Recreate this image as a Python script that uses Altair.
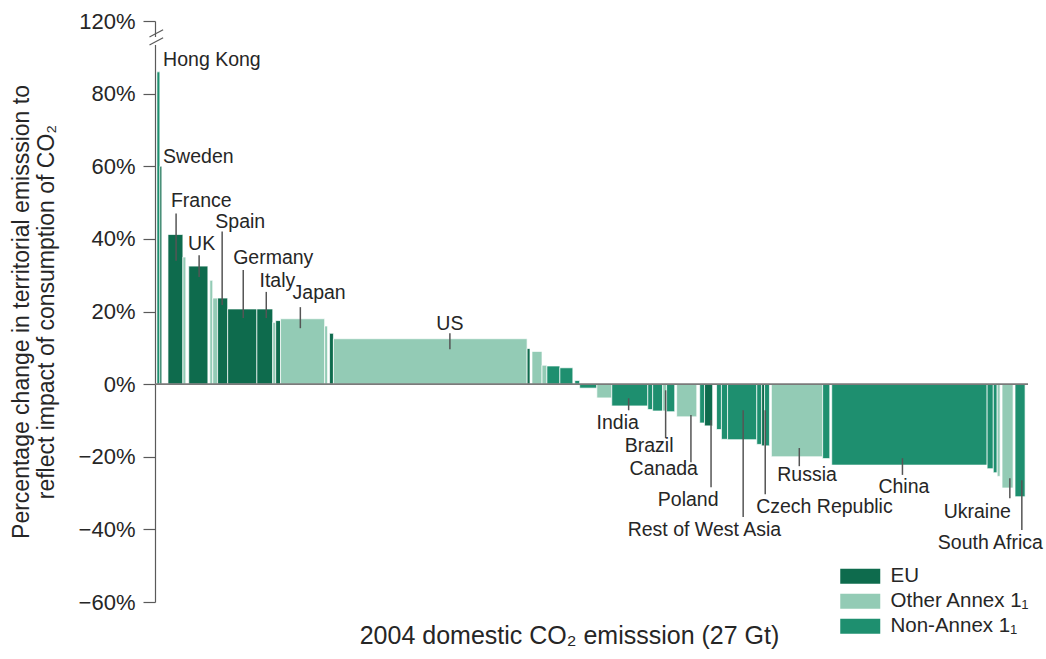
import altair as alt
import pandas as pd

EU = "EU"
OA = "Other Annex 1\u2081"
NA = "Non-Annex 1\u2081"
GAP = "gap"

# Bars left to right: group, 2004 domestic emission (Gt), % change
groups = [GAP, NA, EU, GAP, EU, OA, GAP, EU, GAP, OA,
          OA, EU, EU, EU, OA, EU, OA, OA, GAP, EU,
          OA, EU, GAP, OA, OA, NA, NA, GAP, NA, NA,
          OA, NA, NA, NA, OA, NA, GAP, OA, GAP, NA,
          EU, GAP, NA, NA, NA, NA, EU, NA, GAP, OA,
          NA, GAP, NA, NA, NA, OA, GAP, OA, GAP, NA,
          GAP]
widths = [0.06, 0.09, 0.06, 0.19, 0.46, 0.09, 0.09, 0.59, 0.06, 0.09,
          0.15, 0.31, 0.90, 0.49, 0.09, 0.15, 1.36, 0.09, 0.06, 0.12,
          5.97, 0.09, 0.06, 0.31, 0.15, 0.40, 0.40, 0.06, 0.15, 0.53,
          0.46, 1.11, 0.15, 0.31, 0.12, 0.25, 0.06, 0.62, 0.09, 0.15,
          0.25, 0.12, 0.15, 0.19, 0.90, 0.15, 0.09, 0.15, 0.06, 1.58,
          0.22, 0.06, 4.79, 0.19, 0.12, 0.09, 0.06, 0.34, 0.06, 0.31,
          0.09]
values = [0, 86, 60, 0, 41.2, 35, 0, 32.5, 0, 28.6,
          23.7, 23.7, 20.7, 20.7, 17, 17.5, 18, 16, 0, 14,
          12.5, 9.8, 0, 9, 5.2, 5, 4.5, 0, 1, -1.1,
          -3.8, -6, -7, -7.4, -7.4, -7.6, 0, -9, 0, -10.7,
          -11.5, 0, -12.5, -15.2, -15.3, -16.6, -17, -17, 0, -20,
          -20.5, 0, -22.3, -23.3, -24.4, -25.4, 0, -28.6, 0, -31,
          0]

# Country labels: name, text x (Gt), text y (%), leader x (Gt), leader y from/to (%)
lab_names = ["Hong Kong", "Sweden", "France", "UK", "Spain", "Germany", "Italy", "Japan",
             "India", "Brazil", "Canada", "Poland", "Rest of West Asia", "Czech Republic",
             "Russia", "China", "Ukraine", "South Africa"]
lab_x = [0.25, 0.25, 0.49, 1.02, 1.86, 2.41, 3.22, 4.24,
         13.61, 14.48, 14.63, 15.50, 14.57, 18.53, 19.18, 22.30, 24.31, 24.13]
lab_y = [89.3, 62.5, 50.4, 38.6, 44.6, 34.7, 28.4, 25.0,
         -10.7, -17.0, -23.4, -32.0, -40.2, -33.9, -25.0, -28.4, -35.3, -43.8]
line_x = [None, None, 0.65, 1.36, 2.07, 2.72, 3.43, 4.48,
          14.60, 15.74, 16.52, 17.14, 18.13, 18.81, 19.86, 23.04, 26.35, 26.72]
line_y1 = [None, None, 47.0, 35.5, 42.0, 31.4, 25.4, 21.2,
           -3.9, -1.7, -8.5, -9.9, -7.2, -7.2, -17.6, -20.4, -25.9, -26.5]
line_y2 = [None, None, 34.0, 29.5, 21.8, 18.2, 18.2, 15.4,
           -7.2, -14.9, -21.5, -28.4, -36.6, -30.3, -22.6, -25.0, -31.4, -40.2]

us_label = ["US"]
us_x = [9.09]
us_y = [16.5]
us_line_y1 = [14.0]
us_line_y2 = [9.6]

y_ticks = [-60, -40, -20, 0, 20, 40, 60, 80, 100]

EU_C, OA_C, NA_C = "#0e6b4d", "#93cbb5", "#1e8f6f"
FONT = "Liberation Sans"
TXT = "#262626"
AX = "#5a5a5a"
LAB = 19.5

df = pd.DataFrame({"group": groups, "width": widths, "value": values})
df["x1"] = df["width"].cumsum()
df["x0"] = df["x1"] - df["width"]
TOTAL = float(df["width"].sum())
bars_df = df[df["group"] != GAP].copy()

xs = alt.Scale(domain=[0, TOTAL], nice=False, zero=False)
ys = alt.Scale(domain=[-60, 100], nice=False, zero=False)

bars = alt.Chart(bars_df).mark_rect(stroke="white", strokeWidth=0.7).encode(
    x=alt.X("x0:Q", scale=xs, axis=alt.Axis(
        title="2004 domestic CO\u2082 emisssion (27 Gt)", domain=False, ticks=False,
        labels=False, grid=False, titleFontSize=25, titleFont=FONT,
        titleFontWeight="normal", titleColor=TXT, titleX=414, titleY=33,
        titleBaseline="middle", titleAlign="center")),
    x2="x1:Q",
    y=alt.Y("value:Q", scale=ys, axis=alt.Axis(
        title=["Percentage change in territorial emisssion to",
               "reflect impact of consumption of CO\u2082"],
        values=y_ticks,
        labelExpr="datum.value == 100 ? '120%' : (datum.value < 0 ? '\u2212' + abs(datum.value) + '%' : datum.value + '%')",
        grid=False, tickSize=12, tickColor=AX, domainColor=AX, domainWidth=1.2,
        tickWidth=1.2, labelFontSize=22, labelFont=FONT, labelColor=TXT,
        labelPadding=8, titleFontSize=23, titleFont=FONT, titleFontWeight="normal",
        titleColor=TXT, titlePadding=20, titleLineHeight=25)),
    y2=alt.datum(0),
    color=alt.Color("group:N", scale=alt.Scale(domain=[EU, OA, NA], range=[EU_C, OA_C, NA_C]),
                    legend=alt.Legend(title=None, orient="none", legendX=685, legendY=545,
                                      symbolType="M-1,-0.75H3V0.75H-1Z", symbolSize=400,
                                      symbolStrokeWidth=0, symbolOpacity=1,
                                      labelFontSize=20.5, labelFont=FONT, labelColor=TXT,
                                      labelOffset=30, rowPadding=4, padding=0)),
)

zero = alt.Chart(pd.DataFrame({"v": [0]})).mark_rule(color="#7a7a7a", strokeWidth=1.6).encode(
    y=alt.Y("v:Q", scale=ys))

lab_df = pd.DataFrame({"name": lab_names, "x": lab_x, "y": lab_y,
                       "lx": line_x, "ly1": line_y1, "ly2": line_y2})
leaders_df = lab_df.dropna()

leaders = alt.Chart(leaders_df).mark_rule(color="#555555", strokeWidth=1.5).encode(
    x=alt.X("lx:Q", scale=xs), y=alt.Y("ly1:Q", scale=ys), y2="ly2:Q")

texts = alt.Chart(lab_df).mark_text(align="left", baseline="middle", fontSize=LAB,
                                    font=FONT, color=TXT).encode(
    x=alt.X("x:Q", scale=xs), y=alt.Y("y:Q", scale=ys), text="name:N")

us_df = pd.DataFrame({"name": us_label, "x": us_x, "y": us_y,
                      "ly1": us_line_y1, "ly2": us_line_y2})
us_text = alt.Chart(us_df).mark_text(align="center", baseline="middle", fontSize=LAB,
                                     font=FONT, color=TXT).encode(
    x=alt.X("x:Q", scale=xs), y=alt.Y("y:Q", scale=ys), text="name:N")
us_line = alt.Chart(us_df).mark_rule(color="#555555", strokeWidth=1.5).encode(
    x=alt.X("x:Q", scale=xs), y=alt.Y("ly1:Q", scale=ys), y2="ly2:Q")

# axis break marks
gap_df = pd.DataFrame({"x": [0.0], "y1": [95.6], "y2": [93.4]})
gap = alt.Chart(gap_df).mark_rule(color="white", strokeWidth=4).encode(
    x=alt.X("x:Q", scale=xs), y=alt.Y("y1:Q", scale=ys), y2="y2:Q")
brk_df = pd.DataFrame({"x1": [-0.17, -0.17], "x2": [0.25, 0.25],
                       "y1": [95.6, 93.4], "y2": [97.6, 95.4]})
brk = alt.Chart(brk_df).mark_rule(color=AX, strokeWidth=1.2).encode(
    x=alt.X("x1:Q", scale=xs), x2="x2:Q", y=alt.Y("y1:Q", scale=ys), y2="y2:Q")

chart = alt.layer(bars, zero, leaders, us_line, texts, us_text, gap, brk).properties(
    width=873, height=581,
    autosize=alt.AutoSizeParams(type="none"),
    padding={"left": 155, "top": 21, "right": 18, "bottom": 57},
    background="white",
).configure_view(stroke=None)

chart.save("out.html", embed_options={"renderer": "svg", "actions": False})
